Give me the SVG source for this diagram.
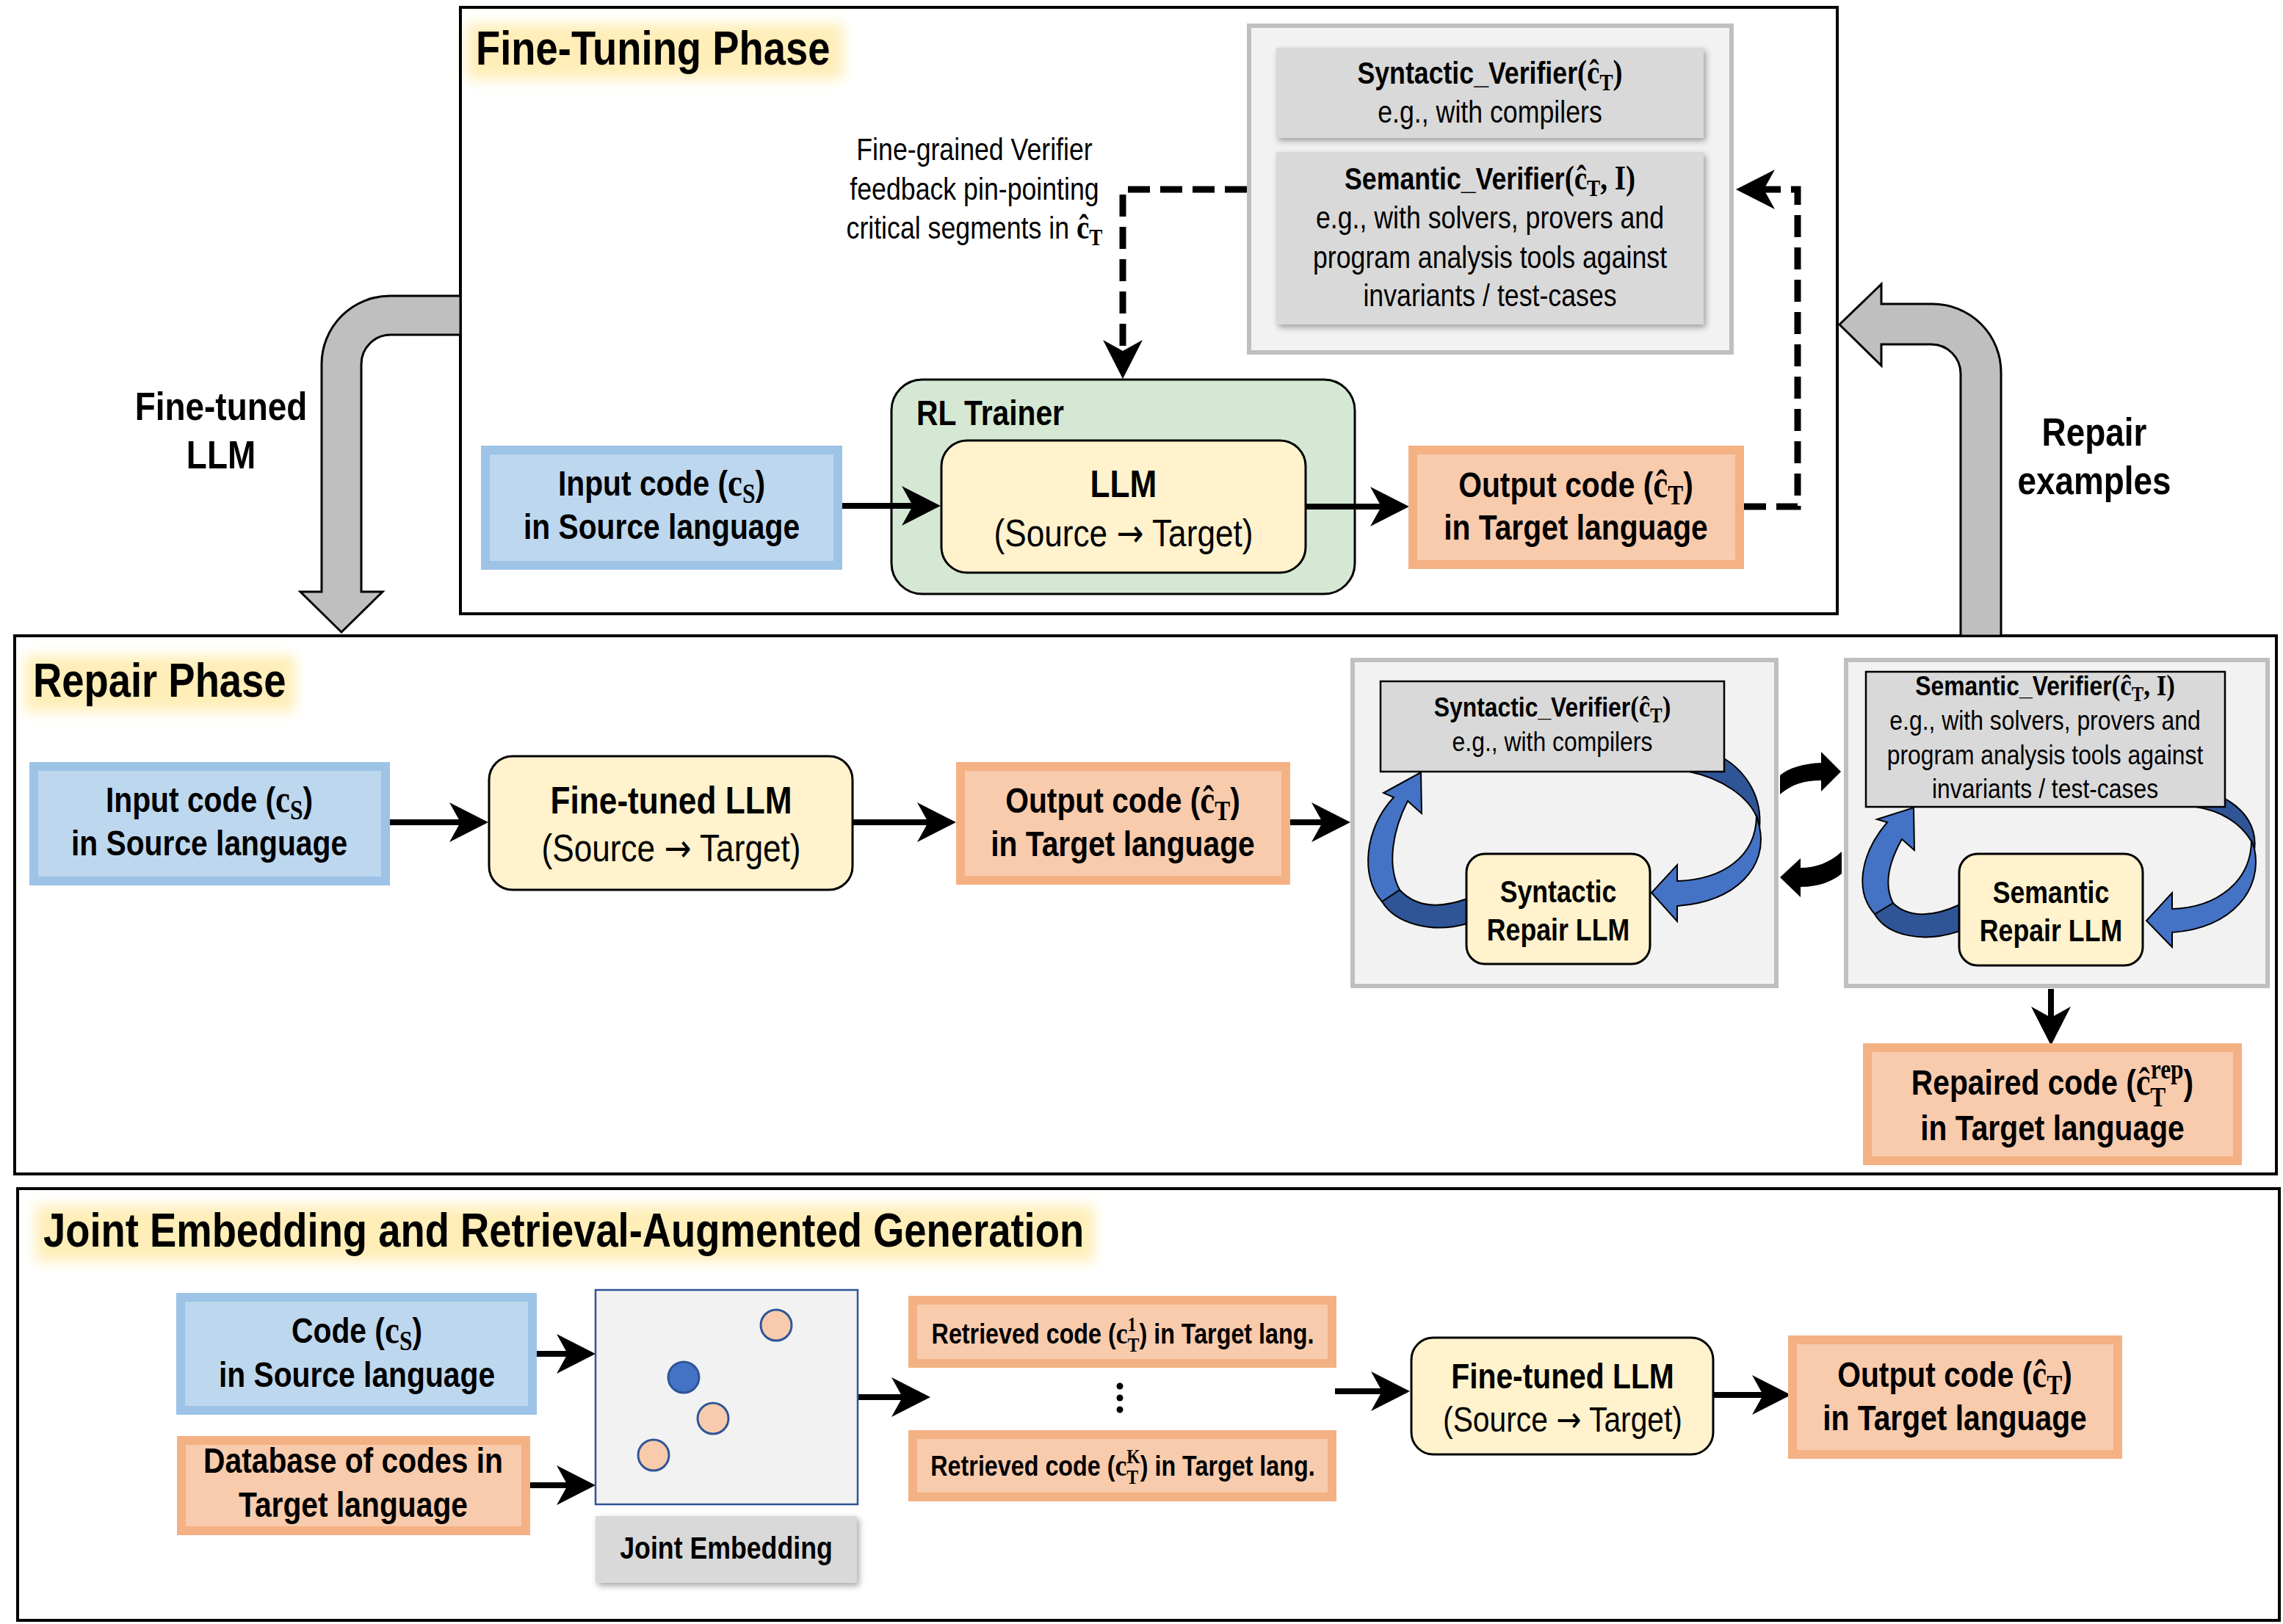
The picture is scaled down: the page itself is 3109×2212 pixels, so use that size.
<svg xmlns="http://www.w3.org/2000/svg" width="3109" height="2212" viewBox="0 0 3109 2212">
<defs>
<style>
text { font-family: "Liberation Sans", Arial, sans-serif; fill: #000; }
.b { font-weight: 700; }
.c { text-anchor: middle; }
.m { font-family: "Liberation Serif", "Times New Roman", serif; font-weight: 700; }
.ar { font-family: "DejaVu Sans", sans-serif; }
.frame { fill: none; stroke: #000; stroke-width: 4; }
.panel { fill: #f2f2f2; stroke: #bfbfbf; stroke-width: 6; }
.blue { fill: #bdd7ee; stroke: #9dc3e6; stroke-width: 12; }
.orange { fill: #f8cbad; stroke: #f4b183; stroke-width: 12; }
.yellow { fill: #fff2cc; stroke: #000; stroke-width: 3; }
.ver { fill: #d9d9d9; }
.verb { fill: #d9d9d9; stroke: #000; stroke-width: 2.5; }
.arrow { fill: none; stroke: #000; stroke-width: 8; marker-end: url(#ah); }
.dash { fill: none; stroke: #000; stroke-width: 9; stroke-dasharray: 30 14; marker-end: url(#ah); }
.gray { fill: #bfbfbf; stroke: #000; stroke-width: 3; }
.bl { fill: #4472c4; stroke: #000; stroke-width: 2; }
.bd { fill: #2f5597; stroke: #000; stroke-width: 2; }
.glow { fill: #ffeeb8; filter: url(#glow); }
</style>
<filter id="glow" x="-20%" y="-60%" width="140%" height="220%"><feGaussianBlur stdDeviation="9"/></filter>
<filter id="shadow" x="-10%" y="-15%" width="125%" height="140%"><feDropShadow dx="3" dy="4" stdDeviation="4" flood-color="#000" flood-opacity="0.35"/></filter>
<marker id="ah" markerUnits="userSpaceOnUse" viewBox="-20 -40 80 80" markerWidth="80" markerHeight="80" refX="0" refY="0" orient="auto" overflow="visible">
<path d="M38 0 L-15 -27 L0 0 L-15 27 Z" fill="#000"/>
</marker>
</defs>
<rect width="3109" height="2212" fill="#fff"/>

<!-- title glows -->
<rect class="glow" x="636" y="32" width="512" height="76"/>
<rect class="glow" x="34" y="893" width="368" height="76"/>
<rect class="glow" x="48" y="1642" width="1442" height="76"/>

<!-- containers -->
<g id="fine-tuning-frame"><rect class="frame" x="627" y="10" width="1875" height="826"/></g>
<g id="repair-frame"><rect class="frame" x="20" y="866" width="3080" height="733"/></g>
<g id="rag-frame"><rect class="frame" x="24" y="1619" width="3080" height="588"/></g>
<g id="ft-verifier-panel"><rect class="panel" x="1701" y="35" width="657" height="445"/></g>
<g id="syn-panel"><rect class="panel" x="1842" y="899" width="577" height="444"/></g>
<g id="sem-panel"><rect class="panel" x="2514" y="899" width="574" height="444"/></g>
<g id="rl-trainer"><rect x="1214" y="517" width="631" height="292" rx="42" fill="#d5e8d4" stroke="#000" stroke-width="3"/>
<text class="b" font-size="48" transform="translate(1248 579) scale(0.85 1)">RL Trainer</text></g>

<!-- connectors -->
<g id="connectors">
<path class="gray" d="M627 403 L531 403 A93 93 0 0 0 438 496 L438 806 L409 806 L465 861 L521 806 L492 806 L492 496 A40 40 0 0 1 532 456 L627 456 Z"/>
<path class="gray" d="M2725 866 L2725 507 A93 93 0 0 0 2632 414 L2562 414 L2562 387 L2505 442 L2562 498 L2562 469 L2630 469 A40 40 0 0 1 2670 509 L2670 866 Z"/>
<path class="dash" d="M1698 258 L1529 258 L1529 478"/>
<path class="dash" d="M2375 690 L2448 690 L2448 258 L2402 258"/>
<path class="arrow" d="M1147 689 L1243 689"/>
<path class="arrow" d="M1778 690 L1881 690"/>
<path class="arrow" d="M531 1120 L627 1120"/>
<path class="arrow" d="M1161 1120 L1264 1120"/>
<path class="arrow" d="M1757 1120 L1801 1120"/>
<path class="arrow" d="M2793 1347 L2793 1386"/>
<path class="arrow" d="M731 1844 L773 1844"/>
<path class="arrow" d="M722 2023 L773 2023"/>
<path class="arrow" d="M1168 1903 L1229 1903"/>
<path class="arrow" d="M1818 1895 L1882 1895"/>
<path class="arrow" d="M2333 1900 L2401 1900"/>
<path d="M2424 1082 C2440 1068 2458 1063 2480 1063 L2480 1078 L2507 1051 L2480 1024 L2480 1039 C2455 1040 2436 1046 2424 1056 Z" fill="#000"/>
<path d="M2508 1160 C2492 1175 2472 1182 2452 1182 L2452 1169 L2424 1195 L2452 1222 L2452 1208 C2478 1208 2496 1200 2508 1190 Z" fill="#000"/>
<path class="bd" d="M1906 1212 C1930 1238 1965 1236 1998 1224 L1998 1258 C1950 1272 1900 1258 1882 1228 Z"/>
<path class="bl" d="M1935 1052 L1936 1108 L1917 1091 C1897 1130 1888 1178 1906 1212 L1882 1228 C1852 1195 1858 1128 1898 1086 L1884 1080 Z"/>
<path class="bd" d="M2300 1040 L2346 1032 C2380 1052 2400 1088 2396 1128 L2392 1112 C2380 1085 2345 1060 2300 1051 Z"/>
<path class="bl" d="M2392 1110 C2392 1168 2345 1198 2284 1200 L2284 1178 L2249 1216 L2284 1255 L2284 1234 C2365 1228 2408 1180 2396 1126 Z"/>
<path class="bd" d="M2578 1230 C2600 1252 2635 1248 2669 1232 L2669 1268 C2620 1285 2570 1275 2553 1245 Z"/>
<path class="bl" d="M2606 1100 L2607 1158 L2590 1143 C2572 1175 2565 1205 2578 1230 L2553 1245 C2526 1215 2532 1165 2570 1120 L2556 1116 Z"/>
<path class="bd" d="M2990 1090 L3026 1086 C3058 1102 3074 1128 3070 1158 L3066 1146 C3052 1122 3025 1104 2990 1099 Z"/>
<path class="bl" d="M3066 1144 C3066 1200 3020 1236 2958 1238 L2958 1216 L2923 1254 L2958 1290 L2958 1270 C3040 1265 3082 1210 3070 1156 Z"/>
</g>

<!-- titles and labels -->
<g id="title-ft"><text class="b" font-size="64" transform="translate(648 88) scale(0.85 1)">Fine-Tuning Phase</text></g>
<g id="title-repair"><text class="b" font-size="64" transform="translate(45 949) scale(0.85 1)">Repair Phase</text></g>
<g id="title-rag"><text class="b" font-size="64" transform="translate(59 1698) scale(0.85 1)">Joint Embedding and Retrieval-Augmented Generation</text></g>
<g id="label-finetuned">
<text class="b c" font-size="54" transform="translate(301 572) scale(0.85 1)">Fine-tuned</text>
<text class="b c" font-size="54" transform="translate(301 638) scale(0.85 1)">LLM</text></g>
<g id="label-repair-examples">
<text class="b c" font-size="54" transform="translate(2852 607) scale(0.85 1)">Repair</text>
<text class="b c" font-size="54" transform="translate(2852 673) scale(0.85 1)">examples</text></g>
<g id="label-feedback">
<text class="c" font-size="42" transform="translate(1327 218) scale(0.85 1)">Fine-grained Verifier</text>
<text class="c" font-size="42" transform="translate(1327 272) scale(0.85 1)">feedback pin-pointing</text>
<text class="c" font-size="42" transform="translate(1327 325) scale(0.85 1)">critical segments in <tspan class="m" font-size="46">ĉ</tspan><tspan class="m" font-size="32" dy="9">T</tspan></text></g>

<!-- Fine-tuning nodes -->
<g id="ft-syntactic-verifier"><rect class="ver" x="1738" y="65" width="582" height="123" filter="url(#shadow)"/>
<text class="b c" font-size="42" transform="translate(2029 114) scale(0.85 1)">Syntactic_Verifier<tspan class="m" font-size="46">(ĉ</tspan><tspan class="m" font-size="32" dy="9">T</tspan><tspan class="m" font-size="46" dy="-9">)</tspan></text>
<text class="c" font-size="42" transform="translate(2029 167) scale(0.85 1)">e.g., with compilers</text></g>
<g id="ft-semantic-verifier"><rect class="ver" x="1738" y="207" width="582" height="235" filter="url(#shadow)"/>
<text class="b c" font-size="42" transform="translate(2029 258) scale(0.85 1)">Semantic_Verifier<tspan class="m" font-size="46">(ĉ</tspan><tspan class="m" font-size="32" dy="9">T</tspan><tspan class="m" font-size="46" dy="-9">, I)</tspan></text>
<text class="c" font-size="42" transform="translate(2029 311) scale(0.85 1)">e.g., with solvers, provers and</text>
<text class="c" font-size="42" transform="translate(2029 365) scale(0.85 1)">program analysis tools against</text>
<text class="c" font-size="42" transform="translate(2029 417) scale(0.85 1)">invariants / test-cases</text></g>
<g id="ft-input"><rect class="blue" x="661" y="613" width="480" height="157"/>
<text class="b c" font-size="48" transform="translate(901 675) scale(0.85 1)">Input code (<tspan class="m" font-size="53">c</tspan><tspan class="m" font-size="37" dy="10">S</tspan><tspan dy="-10">)</tspan></text>
<text class="b c" font-size="48" transform="translate(901 734) scale(0.85 1)">in Source language</text></g>
<g id="ft-llm"><rect class="yellow" x="1282" y="600" width="496" height="180" rx="35"/>
<text class="b c" font-size="52" transform="translate(1530 677) scale(0.85 1)">LLM</text>
<text class="c" font-size="52" transform="translate(1530 744) scale(0.85 1)">(Source <tspan class="ar">→</tspan> Target)</text></g>
<g id="ft-output"><rect class="orange" x="1924" y="613" width="445" height="156"/>
<text class="b c" font-size="48" transform="translate(2146 677) scale(0.85 1)">Output code (<tspan class="m" font-size="53">ĉ</tspan><tspan class="m" font-size="37" dy="10">T</tspan><tspan dy="-10">)</tspan></text>
<text class="b c" font-size="48" transform="translate(2146 735) scale(0.85 1)">in Target language</text></g>

<!-- Repair nodes -->
<g id="rp-input"><rect class="blue" x="46" y="1044" width="479" height="156"/>
<text class="b c" font-size="48" transform="translate(285 1106) scale(0.85 1)">Input code (<tspan class="m" font-size="53">c</tspan><tspan class="m" font-size="37" dy="10">S</tspan><tspan dy="-10">)</tspan></text>
<text class="b c" font-size="48" transform="translate(285 1165) scale(0.85 1)">in Source language</text></g>
<g id="rp-llm"><rect class="yellow" x="666" y="1030" width="495" height="182" rx="32"/>
<text class="b c" font-size="52" transform="translate(914 1108) scale(0.85 1)">Fine-tuned LLM</text>
<text class="c" font-size="52" transform="translate(914 1173) scale(0.85 1)">(Source <tspan class="ar">→</tspan> Target)</text></g>
<g id="rp-output"><rect class="orange" x="1308" y="1044" width="443" height="155"/>
<text class="b c" font-size="48" transform="translate(1529 1107) scale(0.85 1)">Output code (<tspan class="m" font-size="53">ĉ</tspan><tspan class="m" font-size="37" dy="10">T</tspan><tspan dy="-10">)</tspan></text>
<text class="b c" font-size="48" transform="translate(1529 1166) scale(0.85 1)">in Target language</text></g>
<g id="rp-syntactic-verifier"><rect class="verb" x="1880" y="928" width="468" height="123"/>
<text class="b c" font-size="37.5" transform="translate(2114 976) scale(0.85 1)">Syntactic_Verifier<tspan class="m" font-size="41">(ĉ</tspan><tspan class="m" font-size="29" dy="8">T</tspan><tspan class="m" font-size="41" dy="-8">)</tspan></text>
<text class="c" font-size="37.5" transform="translate(2114 1023) scale(0.85 1)">e.g., with compilers</text></g>
<g id="rp-syntactic-repair"><rect class="yellow" x="1997" y="1163" width="250" height="150" rx="25"/>
<text class="b c" font-size="42" transform="translate(2122 1229) scale(0.85 1)">Syntactic</text>
<text class="b c" font-size="42" transform="translate(2122 1281) scale(0.85 1)">Repair LLM</text></g>
<g id="rp-semantic-verifier"><rect class="verb" x="2541" y="915" width="489" height="184"/>
<text class="b c" font-size="37.5" transform="translate(2785 947) scale(0.85 1)">Semantic_Verifier<tspan class="m" font-size="41">(ĉ</tspan><tspan class="m" font-size="29" dy="8">T</tspan><tspan class="m" font-size="41" dy="-8">, I)</tspan></text>
<text class="c" font-size="37.5" transform="translate(2785 994) scale(0.85 1)">e.g., with solvers, provers and</text>
<text class="c" font-size="37.5" transform="translate(2785 1041) scale(0.85 1)">program analysis tools against</text>
<text class="c" font-size="37.5" transform="translate(2785 1087) scale(0.85 1)">invariants / test-cases</text></g>
<g id="rp-semantic-repair"><rect class="yellow" x="2668" y="1163" width="250" height="152" rx="25"/>
<text class="b c" font-size="42" transform="translate(2793 1230) scale(0.85 1)">Semantic</text>
<text class="b c" font-size="42" transform="translate(2793 1282) scale(0.85 1)">Repair LLM</text></g>
<g id="rp-repaired"><rect class="orange" x="2543" y="1427" width="504" height="154"/>
<text class="b c" font-size="48" transform="translate(2795 1491) scale(0.85 1)">Repaired code (<tspan class="m" font-size="53">ĉ</tspan><tspan class="m" font-size="37" dy="-22">rep</tspan><tspan class="m" font-size="37" dx="-53.4" dy="38">T</tspan><tspan dx="28.7" dy="-16">)</tspan></text>
<text class="b c" font-size="48" transform="translate(2795 1553) scale(0.85 1)">in Target language</text></g>

<!-- RAG nodes -->
<g id="rag-code"><rect class="blue" x="246" y="1767" width="479" height="154"/>
<text class="b c" font-size="48" transform="translate(486 1829) scale(0.85 1)">Code (<tspan class="m" font-size="53">c</tspan><tspan class="m" font-size="37" dy="10">S</tspan><tspan dy="-10">)</tspan></text>
<text class="b c" font-size="48" transform="translate(486 1889) scale(0.85 1)">in Source language</text></g>
<g id="rag-db"><rect class="orange" x="247" y="1962" width="469" height="123"/>
<text class="b c" font-size="48" transform="translate(481 2006) scale(0.85 1)">Database of codes in</text>
<text class="b c" font-size="48" transform="translate(481 2066) scale(0.85 1)">Target language</text></g>
<g id="rag-embedding"><rect x="811" y="1757" width="357" height="292" fill="#f2f2f2" stroke="#2f5597" stroke-width="2.5"/>
<circle cx="1057" cy="1805" r="21" fill="#f8cbad" stroke="#2f5597" stroke-width="3"/>
<circle cx="931" cy="1876" r="21" fill="#4472c4" stroke="#2f5597" stroke-width="3"/>
<circle cx="971" cy="1932" r="21" fill="#f8cbad" stroke="#2f5597" stroke-width="3"/>
<circle cx="890" cy="1982" r="21" fill="#f8cbad" stroke="#2f5597" stroke-width="3"/></g>
<g id="rag-embedding-label"><rect class="ver" x="811" y="2065" width="356" height="91" filter="url(#shadow)"/>
<text class="b c" font-size="42" transform="translate(989 2123) scale(0.85 1)">Joint Embedding</text></g>
<g id="rag-retrieved-1"><rect class="orange" x="1243" y="1771" width="571" height="86"/>
<text class="b c" font-size="38" transform="translate(1529 1830) scale(0.85 1)">Retrieved code (<tspan class="m" font-size="42">c</tspan><tspan class="m" font-size="28" dy="-17">1</tspan><tspan class="m" font-size="28" dx="-14" dy="28">T</tspan><tspan dy="-11">) in Target lang.</tspan></text></g>
<g id="rag-dots"><circle cx="1525" cy="1888" r="4.5"/><circle cx="1525" cy="1904" r="4.5"/><circle cx="1525" cy="1920" r="4.5"/></g>
<g id="rag-retrieved-k"><rect class="orange" x="1243" y="1954" width="571" height="85"/>
<text class="b c" font-size="38" transform="translate(1529 2010) scale(0.85 1)">Retrieved code (<tspan class="m" font-size="42">c</tspan><tspan class="m" font-size="28" dy="-17">K</tspan><tspan class="m" font-size="28" dx="-21.8" dy="28">T</tspan><tspan dx="3" dy="-11">) in Target lang.</tspan></text></g>
<g id="rag-llm"><rect class="yellow" x="1922" y="1822" width="411" height="159" rx="30"/>
<text class="b c" font-size="48" transform="translate(2128 1891) scale(0.85 1)">Fine-tuned LLM</text>
<text class="c" font-size="48" transform="translate(2128 1950) scale(0.85 1)">(Source <tspan class="ar">→</tspan> Target)</text></g>
<g id="rag-output"><rect class="orange" x="2441" y="1825" width="443" height="156"/>
<text class="b c" font-size="48" transform="translate(2662 1889) scale(0.85 1)">Output code (<tspan class="m" font-size="53">ĉ</tspan><tspan class="m" font-size="37" dy="10">T</tspan><tspan dy="-10">)</tspan></text>
<text class="b c" font-size="48" transform="translate(2662 1948) scale(0.85 1)">in Target language</text></g>
</svg>
